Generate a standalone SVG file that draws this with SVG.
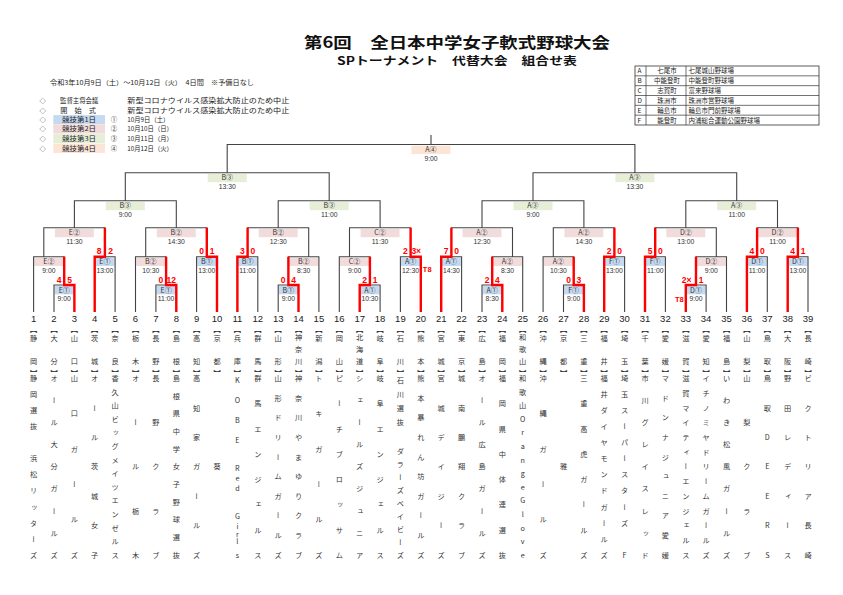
<svg xmlns="http://www.w3.org/2000/svg" width="843" height="595" viewBox="0 0 843 595">
<defs>
<style>
text{font-family:"Noto Sans CJK JP","Liberation Sans",sans-serif;fill:#333}
.ln{fill:none;stroke:#444;stroke-width:1.1}
.rd{fill:none;stroke:#f00;stroke-width:2.4;stroke-linejoin:miter}
.c1{fill:#c5d9f1}.c2{fill:#f2dcdb}.c3{fill:#e6eed8}.c4{fill:#fce4d6}
.lb{font-size:7px;text-anchor:middle}
.tm{font-size:6.8px;text-anchor:middle;font-family:"Liberation Sans",sans-serif}
.sc{font-size:8.5px;font-weight:bold;fill:#f00;text-anchor:middle;font-family:"Liberation Sans",sans-serif}
.t8{font-size:7.5px;font-weight:bold;fill:#f00;font-family:"Liberation Sans",sans-serif}
.no{font-size:9.5px;text-anchor:middle;fill:#222;font-family:"Liberation Sans",sans-serif}
.nm{font-size:7.2px;writing-mode:vertical-rl;text-orientation:upright;text-anchor:middle;fill:#333}
.lg{font-size:6.4px;fill:#222}
.dm{font-size:6.4px;fill:#222;text-anchor:middle}
.vt{font-size:6.5px;fill:#222}
</style>
</defs>
<rect width="843" height="595" fill="#fff"/>

<g id="title">
<text x="457" y="48.3" font-size="15.3" font-weight="bold" text-anchor="middle" textLength="306" lengthAdjust="spacingAndGlyphs" style="fill:#111">第6回　全日本中学女子軟式野球大会</text>
<text x="457" y="65.3" font-size="11.2" font-weight="bold" text-anchor="middle" textLength="240" lengthAdjust="spacingAndGlyphs" style="fill:#111">SPトーナメント　代替大会　組合せ表</text>
</g>

<g id="schedule">
<text class="lg" x="50" y="85" font-size="7" textLength="204" lengthAdjust="spacingAndGlyphs">令和3年10月9日（土）～10月12日（火）　4日間　※予備日なし</text>
<text class="dm" x="42.7" y="103.3">◇</text>
<text class="dm" x="42.7" y="112.6">◇</text>
<text class="dm" x="42.7" y="122">◇</text>
<text class="dm" x="42.7" y="131.3">◇</text>
<text class="dm" x="42.7" y="141">◇</text>
<text class="dm" x="42.7" y="150.6">◇</text>
<text class="lg" x="60" y="103.3" textLength="38.3" lengthAdjust="spacingAndGlyphs">監督主将会議</text>
<text class="lg" x="60.2" y="112.6" textLength="35.8" lengthAdjust="spacingAndGlyphs">開　始　式</text>
<text class="lg" x="127.3" y="103.3" textLength="162" lengthAdjust="spacingAndGlyphs">新型コロナウイルス感染拡大防止のため中止</text>
<text class="lg" x="127.3" y="112.6" textLength="162" lengthAdjust="spacingAndGlyphs">新型コロナウイルス感染拡大防止のため中止</text>
<rect class="c1" x="53.3" y="115.1" width="51.7" height="9.2"/>
<rect class="c2" x="53.3" y="124.4" width="51.7" height="9.2"/>
<rect class="c3" x="53.3" y="134.1" width="51.7" height="9.2"/>
<rect class="c4" x="53.3" y="143.7" width="51.7" height="9.2"/>
<text class="dm" x="79" y="122" textLength="34" lengthAdjust="spacingAndGlyphs">競技第1日</text>
<text class="dm" x="79" y="131.3" textLength="34" lengthAdjust="spacingAndGlyphs">競技第2日</text>
<text class="dm" x="79" y="141" textLength="34" lengthAdjust="spacingAndGlyphs">競技第3日</text>
<text class="dm" x="79" y="150.6" textLength="34" lengthAdjust="spacingAndGlyphs">競技第4日</text>
<text class="dm" x="114" y="122">①</text>
<text class="dm" x="114" y="131.3">②</text>
<text class="dm" x="114" y="141">③</text>
<text class="dm" x="114" y="150.6">④</text>
<text class="lg" x="127.3" y="122" textLength="42" lengthAdjust="spacingAndGlyphs">10月9日（土）</text>
<text class="lg" x="127.3" y="131.3" textLength="45.5" lengthAdjust="spacingAndGlyphs">10月10日（日）</text>
<text class="lg" x="127.3" y="141" textLength="45.5" lengthAdjust="spacingAndGlyphs">10月11日（月）</text>
<text class="lg" x="127.3" y="150.6" textLength="45.5" lengthAdjust="spacingAndGlyphs">10月12日（火）</text>
</g>

<g id="venues">
<rect x="635" y="66" width="184" height="59" fill="none" stroke="#333" stroke-width="0.8"/>
<path d="M635 75.83H819M635 85.67H819M635 95.5H819M635 105.33H819M635 115.17H819M646 66V125M686 66V125" fill="none" stroke="#333" stroke-width="0.7"/>
<text class="vt" x="637.5" y="73.3">A</text><text class="vt" x="667" y="73.3" text-anchor="middle">七尾市</text><text class="vt" x="688.5" y="73.3">七尾城山野球場</text>
<text class="vt" x="637.5" y="83.1">B</text><text class="vt" x="667" y="83.1" text-anchor="middle">中能登町</text><text class="vt" x="688.5" y="83.1">中能登町野球場</text>
<text class="vt" x="637.5" y="93">C</text><text class="vt" x="667" y="93" text-anchor="middle">志賀町</text><text class="vt" x="688.5" y="93">富来野球場</text>
<text class="vt" x="637.5" y="102.8">D</text><text class="vt" x="667" y="102.8" text-anchor="middle">珠洲市</text><text class="vt" x="688.5" y="102.8">珠洲市営野球場</text>
<text class="vt" x="637.5" y="112.6">E</text><text class="vt" x="667" y="112.6" text-anchor="middle">輪島市</text><text class="vt" x="688.5" y="112.6">輪島市門前野球場</text>
<text class="vt" x="637.5" y="122.5">F</text><text class="vt" x="667" y="122.5" text-anchor="middle">能登町</text><text class="vt" x="688.5" y="122.5">内浦総合運動公園野球場</text>
</g>

<g id="matches">
<g id="final"><rect class="c4" x="411.5" y="145.7" width="39" height="8.3"/><text class="lb" x="431" y="152.2">A④</text><text class="tm" x="431" y="160.8">9:00</text></g>
<g id="sf1"><rect class="c3" x="207.7" y="173.9" width="39" height="8.3"/><text class="lb" x="227.2" y="180.4">B③</text><text class="tm" x="227.2" y="189">13:30</text></g>
<g id="sf2"><rect class="c3" x="615.4" y="173.9" width="39" height="8.3"/><text class="lb" x="634.9" y="180.4">A③</text><text class="tm" x="634.9" y="189">13:30</text></g>
<g id="qf1"><rect class="c3" x="105.8" y="201.9" width="39" height="8.3"/><text class="lb" x="125.3" y="208.4">B③</text><text class="tm" x="125.3" y="217">9:00</text></g>
<g id="qf2"><rect class="c3" x="309.7" y="201.9" width="39" height="8.3"/><text class="lb" x="329.2" y="208.4">B③</text><text class="tm" x="329.2" y="217">11:00</text></g>
<g id="qf3"><rect class="c3" x="513.5" y="201.9" width="39" height="8.3"/><text class="lb" x="533" y="208.4">A③</text><text class="tm" x="533" y="217">9:00</text></g>
<g id="qf4"><rect class="c3" x="717.2" y="201.9" width="39" height="8.3"/><text class="lb" x="736.7" y="208.4">A③</text><text class="tm" x="736.7" y="217">11:00</text></g>
<g id="m4"><rect class="c2" x="54.9" y="228.9" width="39" height="8.3"/><text class="lb" x="74.4" y="235.4">E②</text><text class="tm" x="74.4" y="244">11:30</text></g>
<g id="m8"><rect class="c2" x="156.8" y="228.9" width="39" height="8.3"/><text class="lb" x="176.3" y="235.4">B②</text><text class="tm" x="176.3" y="244">14:30</text></g>
<g id="m12"><rect class="c2" x="258.7" y="228.9" width="39" height="8.3"/><text class="lb" x="278.2" y="235.4">B②</text><text class="tm" x="278.2" y="244">12:30</text></g>
<g id="m16"><rect class="c2" x="360.6" y="228.9" width="39" height="8.3"/><text class="lb" x="380.1" y="235.4">C②</text><text class="tm" x="380.1" y="244">11:30</text></g>
<g id="m20"><rect class="c2" x="462.5" y="228.9" width="39" height="8.3"/><text class="lb" x="482" y="235.4">A②</text><text class="tm" x="482" y="244">12:30</text></g>
<g id="m24"><rect class="c2" x="564.4" y="228.9" width="39" height="8.3"/><text class="lb" x="583.9" y="235.4">A②</text><text class="tm" x="583.9" y="244">14:30</text></g>
<g id="m28"><rect class="c2" x="666.3" y="228.9" width="39" height="8.3"/><text class="lb" x="685.8" y="235.4">D②</text><text class="tm" x="685.8" y="244">13:00</text></g>
<g id="m31"><rect class="c2" x="758" y="228.9" width="39" height="8.3"/><text class="lb" x="777.5" y="235.4">D②</text><text class="tm" x="777.5" y="244">11:00</text></g>

<g id="m1"><rect class="c1" x="54.6" y="286" width="19.2" height="8.3"/><text class="lb" x="64.2" y="292.6">E①</text><text class="tm" x="64.2" y="301.2">9:00</text><text class="sc" x="59" y="282.5">4</text><text class="sc" x="69.5" y="282.5">5</text></g>
<g id="m2"><rect class="c2" x="34.2" y="257.7" width="29.4" height="8.3"/><text class="lb" x="48.9" y="264.3">E②</text><text class="tm" x="48.9" y="272.9">9:00</text></g>
<g id="m3"><rect class="c1" x="95.3" y="257.7" width="19.2" height="8.3"/><text class="lb" x="104.9" y="264.3">E①</text><text class="tm" x="104.9" y="272.9">13:00</text><text class="sc" x="99.2" y="254.2">8</text><text class="sc" x="110.6" y="254.2">2</text></g>
<g id="m5"><rect class="c1" x="156.5" y="286" width="19.2" height="8.3"/><text class="lb" x="166.1" y="292.6">E①</text><text class="tm" x="166.1" y="301.2">11:00</text><text class="sc" x="160.9" y="282.5">0</text><text class="sc" x="171.3" y="282.5">12</text></g>
<g id="m6"><rect class="c2" x="136.1" y="257.7" width="29.4" height="8.3"/><text class="lb" x="150.8" y="264.3">B②</text><text class="tm" x="150.8" y="272.9">10:30</text></g>
<g id="m7"><rect class="c1" x="197.2" y="257.7" width="19.2" height="8.3"/><text class="lb" x="206.8" y="264.3">B①</text><text class="tm" x="206.8" y="272.9">13:00</text><text class="sc" x="201.6" y="254.2">0</text><text class="sc" x="212" y="254.2">1</text></g>
<g id="m9"><rect class="c1" x="238" y="257.7" width="19.2" height="8.3"/><text class="lb" x="247.6" y="264.3">B①</text><text class="tm" x="247.6" y="272.9">11:00</text><text class="sc" x="242.4" y="254.2">3</text><text class="sc" x="252.8" y="254.2">0</text></g>
<g id="m10"><rect class="c1" x="278.8" y="286" width="19.1" height="8.3"/><text class="lb" x="288.4" y="292.6">B①</text><text class="tm" x="288.4" y="301.2">9:00</text><text class="sc" x="283.2" y="282.5">0</text><text class="sc" x="293.5" y="282.5">4</text></g>
<g id="m11"><rect class="c2" x="289" y="257.7" width="29.3" height="8.3"/><text class="lb" x="303.7" y="264.3">B②</text><text class="tm" x="303.7" y="272.9">8:30</text></g>
<g id="m13"><rect class="c1" x="360.3" y="286" width="19.2" height="8.3"/><text class="lb" x="369.9" y="292.6">A①</text><text class="tm" x="369.9" y="301.2">10:30</text><text class="sc" x="364.7" y="282.5">2</text><text class="sc" x="375.1" y="282.5">1</text></g>
<g id="m14"><rect class="c2" x="339.9" y="257.7" width="29.4" height="8.3"/><text class="lb" x="354.6" y="264.3">C②</text><text class="tm" x="354.6" y="272.9">9:00</text></g>
<g id="m15"><rect class="c1" x="401" y="257.7" width="19.2" height="8.3"/><text class="lb" x="410.6" y="264.3">A①</text><text class="tm" x="410.6" y="272.9">12:30</text><text class="sc" x="405.4" y="254.2">2</text><text class="sc" x="411.4" y="254.2" style="text-anchor:start">3×</text><text class="t8" x="422.8" y="271.8">T8</text></g>
<g id="m17"><rect class="c1" x="441.8" y="257.7" width="19.2" height="8.3"/><text class="lb" x="451.4" y="264.3">A①</text><text class="tm" x="451.4" y="272.9">14:30</text><text class="sc" x="446.2" y="254.2">7</text><text class="sc" x="456.6" y="254.2">0</text></g>
<g id="m18"><rect class="c1" x="482.6" y="286" width="19.1" height="8.3"/><text class="lb" x="492.2" y="292.6">A①</text><text class="tm" x="492.2" y="301.2">8:30</text><text class="sc" x="487" y="282.5">2</text><text class="sc" x="497.3" y="282.5">4</text></g>
<g id="m19"><rect class="c2" x="492.8" y="257.7" width="29.3" height="8.3"/><text class="lb" x="507.5" y="264.3">A②</text><text class="tm" x="507.5" y="272.9">8:30</text></g>
<g id="m21"><rect class="c1" x="564.1" y="286" width="19.2" height="8.3"/><text class="lb" x="573.7" y="292.6">F①</text><text class="tm" x="573.7" y="301.2">9:00</text><text class="sc" x="568.5" y="282.5">0</text><text class="sc" x="578.9" y="282.5">3</text></g>
<g id="m22"><rect class="c2" x="543.7" y="257.7" width="29.4" height="8.3"/><text class="lb" x="558.4" y="264.3">A②</text><text class="tm" x="558.4" y="272.9">10:30</text></g>
<g id="m23"><rect class="c1" x="604.8" y="257.7" width="19.2" height="8.3"/><text class="lb" x="614.4" y="264.3">F①</text><text class="tm" x="614.4" y="272.9">13:00</text><text class="sc" x="609.2" y="254.2">2</text><text class="sc" x="619.6" y="254.2">0</text></g>
<g id="m25"><rect class="c1" x="645.6" y="257.7" width="19.2" height="8.3"/><text class="lb" x="655.2" y="264.3">F①</text><text class="tm" x="655.2" y="272.9">11:00</text><text class="sc" x="650" y="254.2">5</text><text class="sc" x="660.4" y="254.2">0</text></g>
<g id="m26"><rect class="c1" x="686.4" y="286" width="19.1" height="8.3"/><text class="lb" x="696" y="292.6">D①</text><text class="tm" x="696" y="301.2">9:00</text><text class="sc" x="681.8" y="282.5" style="text-anchor:start">2×</text><text class="sc" x="701.2" y="282.5">1</text><text class="t8" x="683.8" y="301.8" style="text-anchor:end">T8</text></g>
<g id="m27"><rect class="c2" x="696.6" y="257.7" width="29.3" height="8.3"/><text class="lb" x="711.3" y="264.3">D②</text><text class="tm" x="711.3" y="272.9">9:00</text></g>
<g id="m29"><rect class="c1" x="747.5" y="257.7" width="19.2" height="8.3"/><text class="lb" x="757.1" y="264.3">D①</text><text class="tm" x="757.1" y="272.9">11:00</text><text class="sc" x="751.9" y="254.2">4</text><text class="sc" x="762.3" y="254.2">0</text></g>
<g id="m30"><rect class="c1" x="788.3" y="257.7" width="19.1" height="8.3"/><text class="lb" x="797.9" y="264.3">D①</text><text class="tm" x="797.9" y="272.9">13:00</text><text class="sc" x="792.7" y="254.2">4</text><text class="sc" x="803" y="254.2">1</text></g>
</g>

<g id="teams">
<g id="team1"><text class="no" x="33.6" y="321.7">1</text><text class="nm" x="33.6" y="329 338.3 361.7 373.7 378.3 394.4 410.4 426.5 442.5 458.6 474.7 490.7 506.8 522.8 538.9 555">【静岡】静岡選抜　浜松リッターズ</text></g>
<g id="team2"><text class="no" x="54" y="321.7">2</text><text class="nm" x="54" y="329 338.3 361.7 373.7 378.3 400.4 422.5 444.6 466.7 488.7 510.8 532.9 555">【大分】オール大分ガールズ</text></g>
<g id="team3"><text class="no" x="74.4" y="321.7">3</text><text class="nm" x="74.4" y="329 338.3 361.7 373.7 378.3 413.6 449 484.3 519.7 555">【山口】山口ガールズ</text></g>
<g id="team4"><text class="no" x="94.7" y="321.7">4</text><text class="nm" x="94.7" y="329 338.3 361.7 373.7 378.3 407.8 437.2 466.7 496.1 525.6 555">【茨城】オール茨城女子</text></g>
<g id="team5"><text class="no" x="115.1" y="321.7">5</text><text class="nm" x="115.1" y="329 338.3 361.7 373.7 378.3 391.9 405.5 419.1 432.7 446.3 459.8 473.4 487 500.6 514.2 527.8 541.4 555">【奈良】香久山ビッグメイツエンゼルス</text></g>
<g id="team6"><text class="no" x="135.5" y="321.7">6</text><text class="nm" x="135.5" y="329 338.3 361.7 373.7 378.3 422.5 466.7 510.8 555">【栃木】オール栃木</text></g>
<g id="team7"><text class="no" x="155.9" y="321.7">7</text><text class="nm" x="155.9" y="329 338.3 361.7 373.7 378.3 422.5 466.7 510.8 555">【長野】長野クラブ</text></g>
<g id="team8"><text class="no" x="176.3" y="321.7">8</text><text class="nm" x="176.3" y="329 338.3 361.7 373.7 378.3 396 413.6 431.3 449 466.7 484.3 502 519.7 537.3 555">【島根】島根県中学女子野球選抜</text></g>
<g id="team9"><text class="no" x="196.6" y="321.7">9</text><text class="nm" x="196.6" y="329 338.3 361.7 373.7 378.3 407.8 437.2 466.7 496.1 525.6 555">【高知】高知家ガールズ</text></g>
<g id="team10"><text class="no" x="217" y="321.7">10</text><text class="nm" x="217" y="329 338.3 361.7 373.7 466.7">【京都】葵</text></g>
<g id="team11"><text class="no" x="237.4" y="321.7">11</text><text class="nm" x="237.4" y="329 338.3 361.7 373.7 380 400 420 440 454 468.3 478.3 488.3 502 516.7 526.7 534.3 541.7 555">【兵庫】KOBE Red Girls</text></g>
<g id="team12"><text class="no" x="257.8" y="321.7">12</text><text class="nm" x="257.8" y="329 338.3 361.7 373.7 378.3 403.5 428.8 454 479.3 504.5 529.8 555">【群馬】群馬エンジェルス</text></g>
<g id="team13"><text class="no" x="278.2" y="321.7">13</text><text class="nm" x="278.2" y="329 338.3 361.7 373.7 378.3 397.9 417.6 437.2 456.8 476.5 496.1 515.7 535.4 555">【山形】山形ドリームガールズ</text></g>
<g id="team14"><text class="no" x="298.5" y="321.7">14</text><text class="nm" x="298.5" y="329 337.7 349.5 361.3 373.7 378.3 397.9 417.6 437.2 456.8 476.5 496.1 515.7 535.4 555">【神奈川】神奈川やまゆりクラブ</text></g>
<g id="team15"><text class="no" x="318.9" y="321.7">15</text><text class="nm" x="318.9" y="329 338.3 361.7 373.7 378.3 413.6 449 484.3 519.7 555">【新潟】トキガールズ</text></g>
<g id="team16"><text class="no" x="339.3" y="321.7">16</text><text class="nm" x="339.3" y="329 338.3 361.7 373.7 378.3 403.5 428.8 454 479.3 504.5 529.8 555">【岡山】ピーチブロッサム</text></g>
<g id="team17"><text class="no" x="359.7" y="321.7">17</text><text class="nm" x="359.7" y="329 337.7 349.5 361.3 373.7 378.3 400.4 422.5 444.6 466.7 488.7 510.8 532.9 555">【北海道】シェールズジュニア</text></g>
<g id="team18"><text class="no" x="380.1" y="321.7">18</text><text class="nm" x="380.1" y="329 338.3 361.7 373.7 378.3 403.5 428.8 454 479.3 504.5 529.8 555">【岐阜】岐阜エンジェルス</text></g>
<g id="team19"><text class="no" x="400.4" y="321.7">19</text><text class="nm" x="400.4" y="329 338.3 361.7 373.7 380 394 408 422 436 451 464 477 490 503 516 529 542 555">【石川】石川選抜　ダラーズベイビーズ</text></g>
<g id="team20"><text class="no" x="420.8" y="321.7">20</text><text class="nm" x="420.8" y="329 338.3 361.7 373.7 378.3 397.9 417.6 437.2 456.8 476.5 496.1 515.7 535.4 555">【熊本】熊本暴れん坊ガールズ</text></g>
<g id="team21"><text class="no" x="441.2" y="321.7">21</text><text class="nm" x="441.2" y="329 338.3 361.7 373.7 378.3 407.8 437.2 466.7 496.1 525.6 555">【宮城】宮城デイジーズ</text></g>
<g id="team22"><text class="no" x="461.6" y="321.7">22</text><text class="nm" x="461.6" y="329 338.3 361.7 373.7 378.3 407.8 437.2 466.7 496.1 525.6 555">【東京】城南鵬翔クラブ</text></g>
<g id="team23"><text class="no" x="482" y="321.7">23</text><text class="nm" x="482" y="329 338.3 361.7 373.7 378.3 400.4 422.5 444.6 466.7 488.7 510.8 532.9 555">【広島】オール広島ガールズ</text></g>
<g id="team24"><text class="no" x="502.3" y="321.7">24</text><text class="nm" x="502.3" y="329 338.3 361.7 373.7 378.3 403.5 428.8 454 479.3 504.5 529.8 555">【福岡】福岡県中体連選抜</text></g>
<g id="team25"><text class="no" x="522.7" y="321.7">25</text><text class="nm" x="522.7" y="329 337.7 349.5 361.3 373.7 378.3 391.9 405.5 419.1 432.7 446.3 459.8 473.4 487 500.6 514.2 527.8 541.4 555">【和歌山】和歌山OrangeGlove</text></g>
<g id="team26"><text class="no" x="543.1" y="321.7">26</text><text class="nm" x="543.1" y="329 338.3 361.7 373.7 378.3 413.6 449 484.3 519.7 555">【沖縄】沖縄ガールズ</text></g>
<g id="team27"><text class="no" x="563.5" y="321.7">27</text><text class="nm" x="563.5" y="329 338.3 361.7 373.7 466.7">【京都】雅</text></g>
<g id="team28"><text class="no" x="583.9" y="321.7">28</text><text class="nm" x="583.9" y="329 338.3 361.7 373.7 378.3 403.5 428.8 454 479.3 504.5 529.8 555">【三重】三重高虎ガールズ</text></g>
<g id="team29"><text class="no" x="604.2" y="321.7">29</text><text class="nm" x="604.2" y="329 338.3 361.7 373.7 378.3 394.4 410.4 426.5 442.5 458.6 474.7 490.7 506.8 522.8 538.9 555">【福井】福井ダイヤモンドガールズ</text></g>
<g id="team30"><text class="no" x="624.6" y="321.7">30</text><text class="nm" x="624.6" y="329 338.3 361.7 373.7 378.3 394.4 410.4 426.5 442.5 458.6 474.7 490.7 506.8 522.8 538.9 555">【埼玉】埼玉スーパースターズ　F</text></g>
<g id="team31"><text class="no" x="645" y="321.7">31</text><text class="nm" x="645" y="329 338.3 361.7 373.7 378.3 400.4 422.5 444.6 466.7 488.7 510.8 532.9 555">【千葉】市川グレイスレッド</text></g>
<g id="team32"><text class="no" x="665.4" y="321.7">32</text><text class="nm" x="665.4" y="329 338.3 361.7 373.7 378.3 397.9 417.6 437.2 456.8 476.5 496.1 515.7 535.4 555">【愛媛】マドンナジュニア愛媛</text></g>
<g id="team33"><text class="no" x="685.8" y="321.7">33</text><text class="nm" x="685.8" y="329 338.3 361.7 373.7 378.3 393 407.8 422.5 437.2 451.9 466.7 481.4 496.1 510.8 525.6 540.3 555">【滋賀】滋賀マイティーエンジェルス</text></g>
<g id="team34"><text class="no" x="706.1" y="321.7">34</text><text class="nm" x="706.1" y="329 338.3 361.7 373.7 378.3 393 407.8 422.5 437.2 451.9 466.7 481.4 496.1 510.8 525.6 540.3 555">【愛知】イチノミヤドリームガールズ</text></g>
<g id="team35"><text class="no" x="726.5" y="321.7">35</text><text class="nm" x="726.5" y="329 338.3 361.7 373.7 378.3 400.4 422.5 444.6 466.7 488.7 510.8 532.9 555">【福島】いわき松風ガールズ</text></g>
<g id="team36"><text class="no" x="746.9" y="321.7">36</text><text class="nm" x="746.9" y="329 338.3 361.7 373.7 378.3 422.5 466.7 510.8 555">【山梨】山梨クラブ</text></g>
<g id="team37"><text class="no" x="767.3" y="321.7">37</text><text class="nm" x="767.3" y="329 338.3 361.7 373.7 378.3 407.8 437.2 466.7 496.1 525.6 555">【鳥取】鳥取DEERS</text></g>
<g id="team38"><text class="no" x="787.7" y="321.7">38</text><text class="nm" x="787.7" y="329 338.3 361.7 373.7 378.3 407.8 437.2 466.7 496.1 525.6 555">【大阪】野田レディース</text></g>
<g id="team39"><text class="no" x="808" y="321.7">39</text><text class="nm" x="808" y="329 338.3 361.7 373.7 378.3 407.8 437.2 466.7 496.1 525.6 555">【長崎】ビクトリア長崎</text></g>
</g>

<g id="connectors">
<path class="ln" d="M431 144.5V135M227.2 172.7V144.5H634.9V172.7
M125.3 200.7V172.7H329.2V200.7M533 200.7V172.7H736.7V200.7
M74.4 227.7V200.7H176.3V227.7M278.2 227.7V200.7H380.1V227.7M482 227.7V200.7H583.9V227.7M685.8 227.7V200.7H777.5V227.7
M43.8 256.7V227.7H104.9V256.7M145.7 256.7V227.7H206.8V256.7M247.6 256.7V227.7H308.7V256.7M349.5 256.7V227.7H410.6V256.7
M451.4 256.7V227.7H512.5V256.7M553.3 256.7V227.7H614.4V256.7M655.2 256.7V227.7H716.3V256.7M757.1 256.7V227.7H797.9V256.7
M33.6 312V256.7H64.2V285M94.7 312V256.7H115.1V312M135.5 312V256.7H166.1V285M196.6 312V256.7H217V312
M237.4 312V256.7H257.8V312M288.4 285V256.7H318.9V312M339.3 312V256.7H369.9V285M400.4 312V256.7H420.8V312
M441.2 312V256.7H461.6V312M492.2 285V256.7H522.7V312M543.1 312V256.7H573.7V285M604.2 312V256.7H624.6V312
M645 312V256.7H665.4V312M696 285V256.7H726.5V312M746.9 312V256.7H767.3V312M787.7 312V256.7H808V312
M54 312V285H74.4V312M155.9 312V285H176.3V312M278.2 312V285H298.5V312M359.7 312V285H380.1V312
M482 312V285H502.3V312M563.5 312V285H583.9V312M685.8 312V285H706.1V312"/>
<path class="rd" d="M74.4 312V285H64.2V256.7M94.7 312V256.7H104.9V227.7M176.3 312V285H166.1V256.7M217 312V256.7H206.8V227.7
M237.4 312V256.7H247.6V227.7M298.5 312V285H288.4V256.7M359.7 312V285H369.9V256.7M420.8 312V256.7H410.6V227.7
M441.2 312V256.7H451.4V227.7M502.3 312V285H492.2V256.7M583.9 312V285H573.7V256.7M604.2 312V256.7H614.4V227.7
M645 312V256.7H655.2V227.7M685.8 312V285H696V256.7M746.9 312V256.7H757.1V227.7M787.7 312V256.7H797.9V227.7"/>
</g>
</svg>
